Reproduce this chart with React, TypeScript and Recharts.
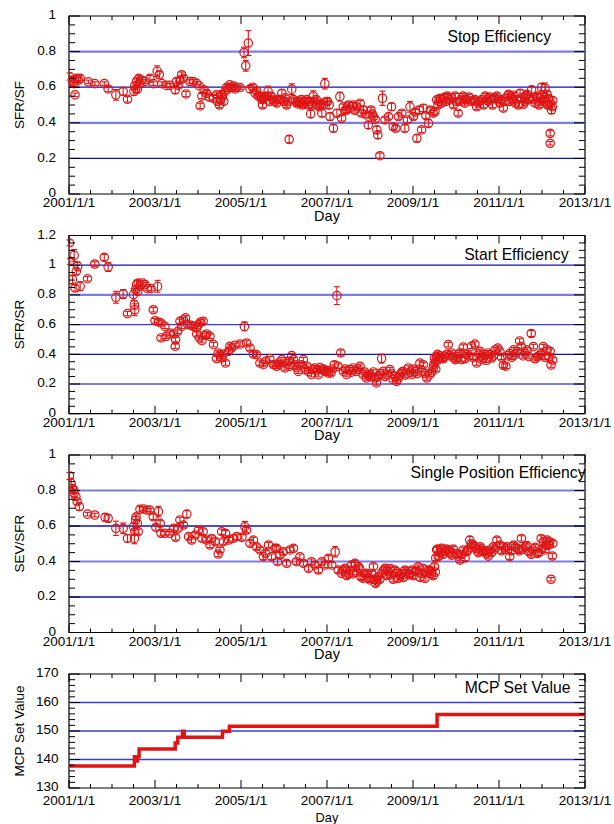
import React from 'react';
import {
  ScatterChart, Scatter, XAxis, YAxis, ErrorBar, ReferenceLine, ReferenceArea,
  LineChart, Line,
} from 'recharts';

type P = [number, number, number]; // [day (decimal year), value, error]

// ---------------- DATA ----------------
const yearTicks = [2001, 2003, 2005, 2007, 2009, 2011, 2013];
const yearLabels = ['2001/1/1', '2003/1/1', '2005/1/1', '2007/1/1', '2009/1/1', '2011/1/1', '2013/1/1'];

const effYTicks = [0, 0.2, 0.4, 0.6, 0.8, 1];
const startYTicks = [0, 0.2, 0.4, 0.6, 0.8, 1, 1.2];
const mcpYTicks = [130, 140, 150, 160, 170];

const stopEfficiency: P[] = [
  [2001.01,0.66,0.02],[2001.05,0.64,0.015],[2001.09,0.63,0.03],[2001.12,0.62,0.015],[2001.14,0.557,0.01],
  [2001.18,0.65,0.015],[2001.22,0.64,0.015],[2001.26,0.65,0.015],[2001.45,0.63,0.01],[2001.6,0.62,0.01],
  [2001.82,0.62,0.01],[2001.91,0.59,0.015],[2002.09,0.557,0.03],[2002.26,0.576,0.02],[2002.36,0.532,0.015],
  [2002.51,0.576,0.02],[2002.53,0.607,0.02],[2002.55,0.59,0.02],[2002.57,0.632,0.02],[2002.59,0.589,0.02],
  [2002.62,0.65,0.015],[2002.65,0.62,0.015],[2002.69,0.64,0.015],[2002.77,0.632,0.01],[2002.88,0.65,0.015],
  [2002.96,0.62,0.01],[2003.05,0.69,0.03],[2003.1,0.67,0.02],[2003.16,0.62,0.01],[2003.27,0.61,0.01],
  [2003.35,0.61,0.01],[2003.47,0.585,0.02],[2003.5,0.632,0.02],[2003.54,0.61,0.015],[2003.58,0.64,0.015],
  [2003.62,0.67,0.015],[2003.66,0.65,0.015],[2003.72,0.562,0.015],[2003.81,0.632,0.01],[2003.89,0.632,0.01],
  [2003.97,0.622,0.01],[2004.03,0.607,0.01],[2004.05,0.495,0.015],[2004.09,0.55,0.015],[2004.14,0.585,0.015],
  [2004.2,0.566,0.015],[2004.26,0.544,0.015],[2004.36,0.538,0.015],[2004.43,0.557,0.015],[2004.5,0.5,0.015],
  [2004.53,0.529,0.015],[2004.57,0.55,0.015],[2004.6,0.52,0.015],[2004.63,0.576,0.015],[2004.67,0.6,0.015],
  [2004.74,0.613,0.01],[2004.82,0.607,0.01],[2004.9,0.6,0.01],[2004.98,0.598,0.01],[2005.07,0.795,0.03],
  [2005.11,0.72,0.03],[2005.17,0.848,0.07],[2005.21,0.59,0.02],[2005.27,0.6,0.015],[2005.33,0.566,0.015],
  [2005.4,0.55,0.015],[2005.48,0.532,0.015],[2005.5,0.5,0.015],[2005.56,0.547,0.015],[2005.63,0.576,0.03],
  [2005.67,0.52,0.015],[2005.74,0.532,0.015],[2005.79,0.52,0.015],[2005.87,0.532,0.015],[2005.95,0.566,0.02],
  [2006.0,0.52,0.015],[2006.06,0.5,0.015],[2006.12,0.307,0.02],[2006.18,0.589,0.03],[2006.26,0.52,0.015],
  [2006.31,0.506,0.015],[2006.37,0.51,0.015],[2006.43,0.5,0.015],[2006.49,0.52,0.015],[2006.57,0.5,0.015],
  [2006.62,0.45,0.02],[2006.68,0.55,0.03],[2006.72,0.52,0.015],[2006.77,0.5,0.015],[2006.82,0.49,0.015],
  [2006.88,0.454,0.02],[2006.95,0.62,0.03],[2007.01,0.52,0.02],[2007.05,0.5,0.02],[2007.07,0.435,0.02],
  [2007.15,0.369,0.02],[2007.23,0.454,0.02],[2007.3,0.547,0.025],[2007.34,0.425,0.015],[2007.38,0.49,0.015],
  [2007.42,0.47,0.015],[2007.46,0.472,0.015],[2007.5,0.5,0.015],[2007.54,0.482,0.015],[2007.61,0.5,0.015],
  [2007.65,0.47,0.015],[2007.69,0.49,0.015],[2007.77,0.51,0.015],[2007.8,0.455,0.015],[2007.85,0.472,0.02],
  [2007.91,0.444,0.015],[2007.96,0.388,0.02],[2008.02,0.472,0.015],[2008.05,0.45,0.015],[2008.08,0.435,0.015],
  [2008.12,0.42,0.015],[2008.16,0.36,0.02],[2008.18,0.332,0.02],[2008.23,0.215,0.015],[2008.29,0.538,0.04],
  [2008.35,0.416,0.015],[2008.43,0.435,0.015],[2008.5,0.49,0.02],[2008.54,0.378,0.015],[2008.6,0.369,0.015],
  [2008.66,0.435,0.015],[2008.74,0.454,0.015],[2008.81,0.369,0.02],[2008.87,0.416,0.015],[2008.93,0.49,0.03],
  [2009.01,0.435,0.015],[2009.05,0.46,0.015],[2009.09,0.313,0.02],[2009.15,0.472,0.02],[2009.2,0.36,0.015],
  [2009.24,0.482,0.02],[2009.3,0.44,0.015],[2009.36,0.397,0.02],[2009.4,0.472,0.015],[2009.47,0.454,0.015],
  [2009.51,0.463,0.015],[2009.55,0.529,0.015],[2009.6,0.52,0.015],[2009.63,0.538,0.015],[2009.7,0.53,0.015],
  [2009.74,0.544,0.015],[2009.8,0.55,0.015],[2009.86,0.529,0.015],[2009.94,0.5,0.015],[2010.0,0.52,0.015],
  [2010.05,0.454,0.015],[2010.13,0.532,0.015],[2010.2,0.51,0.015],[2010.25,0.529,0.015],[2010.3,0.545,0.015],
  [2010.4,0.525,0.015],[2010.48,0.49,0.015],[2010.55,0.52,0.015],[2010.64,0.5,0.015],[2010.71,0.529,0.015],
  [2010.79,0.544,0.015],[2010.85,0.5,0.015],[2010.91,0.538,0.015],[2010.98,0.529,0.015],[2011.05,0.53,0.015],
  [2011.1,0.482,0.015],[2011.18,0.544,0.015],[2011.25,0.52,0.015],[2011.29,0.544,0.015],[2011.35,0.555,0.015],
  [2011.41,0.529,0.015],[2011.45,0.5,0.015],[2011.49,0.566,0.02],[2011.57,0.504,0.015],[2011.62,0.55,0.015],
  [2011.68,0.529,0.015],[2011.76,0.585,0.02],[2011.84,0.51,0.015],[2011.9,0.545,0.015],[2011.95,0.52,0.015],
  [2011.99,0.6,0.02],[2012.03,0.53,0.015],[2012.07,0.594,0.03],[2012.1,0.51,0.015],[2012.12,0.56,0.015],
  [2012.15,0.538,0.015],[2012.19,0.341,0.015],[2012.19,0.285,0.01],[2012.22,0.472,0.02],[2012.25,0.525,0.015],
  [2004.45,0.52,0.015],[2004.55,0.56,0.015],[2004.7,0.59,0.015],[2004.78,0.6,0.015],[2004.86,0.59,0.015],
  [2005.36,0.58,0.015],[2005.45,0.55,0.015],[2005.52,0.53,0.015],[2005.6,0.55,0.015],[2005.7,0.55,0.015],
  [2005.83,0.51,0.015],[2005.91,0.53,0.015],[2006.03,0.54,0.015],[2006.09,0.52,0.015],[2006.22,0.53,0.015],
  [2006.34,0.52,0.015],[2006.4,0.53,0.015],[2006.46,0.51,0.015],[2006.53,0.53,0.015],[2006.6,0.52,0.015],
  [2006.65,0.5,0.015],[2006.75,0.53,0.015],[2006.85,0.51,0.015],[2006.92,0.5,0.015],[2006.98,0.52,0.015],
  [2009.58,0.5,0.015],[2009.66,0.51,0.015],[2009.77,0.52,0.015],[2009.9,0.54,0.015],[2009.98,0.55,0.015],
  [2010.09,0.52,0.015],[2010.16,0.55,0.015],[2010.23,0.53,0.015],[2010.35,0.52,0.015],[2010.44,0.53,0.015],
  [2010.51,0.51,0.015],[2010.6,0.53,0.015],[2010.68,0.55,0.015],[2010.75,0.52,0.015],[2010.82,0.53,0.015],
  [2010.95,0.55,0.015],[2011.02,0.51,0.015],[2011.14,0.52,0.015],[2011.22,0.56,0.015],[2011.32,0.53,0.015],
  [2011.38,0.51,0.015],[2011.53,0.54,0.015],[2011.6,0.52,0.015],[2011.65,0.56,0.015],[2011.72,0.54,0.015],
  [2011.8,0.53,0.015],[2011.87,0.55,0.015],[2011.93,0.5,0.015],[2012.0,0.55,0.015],[2012.05,0.52,0.015],
  [2012.13,0.5,0.015],[2012.2,0.51,0.015],[2012.24,0.49,0.015],
];

const startEfficiency: P[] = [
  [2001.01,1.15,0.02],[2001.02,1.026,0.02],[2001.08,0.903,0.03],[2001.12,1.066,0.04],[2001.14,0.846,0.02],
  [2001.17,0.959,0.02],[2001.2,0.992,0.03],[2001.26,0.858,0.03],[2001.43,0.909,0.015],[2001.6,1.008,0.015],
  [2001.82,1.053,0.02],[2001.91,0.988,0.03],[2002.09,0.784,0.04],[2002.26,0.806,0.03],[2002.36,0.674,0.015],
  [2002.5,0.802,0.04],[2002.52,0.734,0.03],[2002.53,0.7,0.04],[2002.55,0.835,0.02],[2002.57,0.869,0.03],
  [2002.6,0.824,0.02],[2002.61,0.88,0.02],[2002.65,0.858,0.015],[2002.71,0.88,0.015],[2002.77,0.869,0.015],
  [2002.83,0.842,0.015],[2002.91,0.842,0.015],[2002.96,0.7,0.015],[2003.0,0.626,0.015],[2003.06,0.858,0.04],
  [2003.08,0.618,0.015],[2003.14,0.611,0.015],[2003.14,0.51,0.015],[2003.23,0.588,0.015],[2003.26,0.521,0.015],
  [2003.35,0.543,0.015],[2003.43,0.537,0.015],[2003.47,0.454,0.015],[2003.48,0.499,0.015],[2003.53,0.555,0.015],
  [2003.58,0.622,0.015],[2003.62,0.588,0.015],[2003.66,0.633,0.015],[2003.71,0.645,0.015],[2003.76,0.6,0.015],
  [2003.84,0.595,0.015],[2003.89,0.588,0.015],[2003.97,0.537,0.015],[2003.97,0.577,0.015],[2004.01,0.6,0.015],
  [2004.03,0.51,0.015],[2004.06,0.618,0.015],[2004.09,0.492,0.015],[2004.12,0.622,0.015],[2004.16,0.528,0.015],
  [2004.2,0.537,0.015],[2004.28,0.521,0.015],[2004.36,0.465,0.015],[2004.43,0.371,0.015],[2004.47,0.409,0.015],
  [2004.51,0.398,0.015],[2004.55,0.375,0.015],[2004.59,0.402,0.015],[2004.64,0.341,0.015],[2004.71,0.42,0.015],
  [2004.74,0.454,0.015],[2004.78,0.442,0.015],[2004.86,0.46,0.015],[2004.98,0.469,0.015],[2005.08,0.588,0.03],
  [2005.13,0.476,0.015],[2005.21,0.442,0.015],[2005.29,0.402,0.015],[2005.36,0.398,0.015],[2005.44,0.341,0.015],
  [2005.52,0.33,0.015],[2005.57,0.353,0.015],[2005.67,0.371,0.015],[2005.75,0.33,0.015],[2005.79,0.33,0.015],
  [2005.83,0.319,0.015],[2005.87,0.341,0.015],[2005.95,0.364,0.015],[2006.02,0.308,0.015],[2006.1,0.353,0.015],
  [2006.18,0.391,0.015],[2006.22,0.364,0.015],[2006.26,0.33,0.015],[2006.33,0.285,0.015],[2006.45,0.364,0.015],
  [2006.49,0.297,0.015],[2006.57,0.285,0.015],[2006.64,0.263,0.015],[2006.72,0.308,0.015],[2006.8,0.263,0.015],
  [2006.88,0.297,0.015],[2006.95,0.285,0.015],[2007.03,0.274,0.015],[2007.09,0.274,0.015],[2007.17,0.33,0.02],
  [2007.23,0.795,0.06],[2007.26,0.319,0.015],[2007.32,0.409,0.02],[2007.38,0.285,0.015],[2007.46,0.263,0.015],
  [2007.53,0.297,0.015],[2007.61,0.308,0.015],[2007.69,0.285,0.015],[2007.77,0.319,0.015],[2007.84,0.263,0.015],
  [2007.92,0.24,0.015],[2008.0,0.263,0.015],[2008.08,0.281,0.015],[2008.15,0.207,0.015],[2008.19,0.252,0.015],
  [2008.27,0.371,0.03],[2008.31,0.285,0.015],[2008.39,0.263,0.015],[2008.46,0.297,0.015],[2008.54,0.229,0.015],
  [2008.62,0.218,0.015],[2008.7,0.263,0.015],[2008.77,0.285,0.015],[2008.89,0.308,0.015],[2008.97,0.263,0.015],
  [2009.05,0.285,0.015],[2009.16,0.341,0.015],[2009.24,0.33,0.015],[2009.32,0.24,0.015],[2009.39,0.263,0.015],
  [2009.47,0.308,0.015],[2009.5,0.375,0.015],[2009.55,0.386,0.015],[2009.59,0.364,0.015],[2009.67,0.375,0.015],
  [2009.74,0.386,0.015],[2009.82,0.465,0.015],[2009.9,0.409,0.015],[2009.98,0.364,0.015],[2010.05,0.398,0.015],
  [2010.13,0.364,0.015],[2010.17,0.449,0.015],[2010.25,0.398,0.015],[2010.36,0.454,0.015],[2010.44,0.469,0.015],
  [2010.48,0.341,0.015],[2010.53,0.402,0.015],[2010.6,0.364,0.015],[2010.67,0.398,0.015],[2010.75,0.409,0.015],
  [2010.83,0.375,0.015],[2010.91,0.431,0.015],[2010.97,0.442,0.015],[2011.02,0.42,0.015],[2011.1,0.326,0.015],
  [2011.16,0.32,0.015],[2011.25,0.406,0.015],[2011.34,0.43,0.015],[2011.43,0.418,0.015],[2011.48,0.49,0.015],
  [2011.52,0.452,0.015],[2011.61,0.406,0.015],[2011.7,0.384,0.015],[2011.75,0.54,0.02],[2011.8,0.452,0.015],
  [2011.89,0.384,0.015],[2011.98,0.406,0.015],[2012.03,0.452,0.015],[2012.12,0.43,0.015],[2012.16,0.384,0.015],
  [2012.21,0.328,0.015],[2012.25,0.361,0.015],
  [2005.9,0.33,0.015],[2006.05,0.34,0.015],[2006.14,0.32,0.015],[2006.3,0.31,0.015],[2006.4,0.33,0.015],
  [2006.53,0.32,0.015],[2006.68,0.3,0.015],[2006.76,0.29,0.015],[2006.84,0.31,0.015],[2006.92,0.3,0.015],
  [2007.0,0.29,0.015],[2007.13,0.3,0.015],[2007.42,0.3,0.015],[2007.57,0.28,0.015],[2007.73,0.3,0.015],
  [2007.88,0.28,0.015],[2007.96,0.26,0.015],[2008.04,0.25,0.015],[2008.12,0.24,0.015],[2008.23,0.27,0.015],
  [2008.35,0.25,0.015],[2008.5,0.27,0.015],[2008.58,0.25,0.015],[2008.66,0.24,0.015],[2008.74,0.28,0.015],
  [2008.82,0.26,0.015],[2008.93,0.28,0.015],[2009.01,0.3,0.015],[2009.1,0.27,0.015],[2009.2,0.29,0.015],
  [2009.28,0.27,0.015],[2009.43,0.28,0.015],[2009.48,0.33,0.015],[2009.52,0.35,0.015],[2009.53,0.3,0.015],
  [2009.57,0.4,0.015],[2009.63,0.39,0.015],[2009.7,0.37,0.015],[2009.78,0.4,0.015],[2009.86,0.39,0.015],
  [2009.94,0.38,0.015],[2010.02,0.37,0.015],[2010.09,0.41,0.015],[2010.21,0.37,0.015],[2010.3,0.39,0.015],
  [2010.4,0.38,0.015],[2010.56,0.42,0.015],[2010.64,0.38,0.015],[2010.71,0.36,0.015],[2010.8,0.4,0.015],
  [2010.87,0.39,0.015],[2011.06,0.38,0.015],[2011.2,0.39,0.015],[2011.3,0.38,0.015],[2011.38,0.4,0.015],
  [2011.56,0.39,0.015],[2011.65,0.43,0.015],[2011.84,0.37,0.015],[2011.93,0.39,0.015],[2012.07,0.38,0.015],
  [2012.19,0.42,0.015],
];

const singlePositionEfficiency: P[] = [
  [2001.01,0.882,0.02],[2001.05,0.84,0.03],[2001.08,0.812,0.02],[2001.11,0.803,0.02],[2001.12,0.784,0.02],
  [2001.16,0.765,0.02],[2001.19,0.737,0.015],[2001.24,0.709,0.02],[2001.43,0.667,0.01],[2001.6,0.662,0.01],
  [2001.84,0.649,0.02],[2001.91,0.643,0.02],[2002.09,0.587,0.04],[2002.26,0.587,0.03],[2002.36,0.53,0.02],
  [2002.5,0.596,0.02],[2002.52,0.53,0.03],[2002.53,0.568,0.02],[2002.55,0.634,0.02],[2002.56,0.652,0.015],
  [2002.59,0.615,0.015],[2002.61,0.568,0.015],[2002.65,0.694,0.015],[2002.73,0.696,0.01],[2002.81,0.69,0.01],
  [2002.88,0.69,0.01],[2002.96,0.652,0.015],[2003.02,0.592,0.015],[2003.08,0.681,0.03],[2003.12,0.615,0.015],
  [2003.14,0.559,0.015],[2003.23,0.559,0.01],[2003.35,0.559,0.01],[2003.43,0.587,0.015],[2003.48,0.536,0.015],
  [2003.54,0.587,0.015],[2003.58,0.634,0.015],[2003.66,0.605,0.015],[2003.74,0.667,0.02],[2003.78,0.54,0.015],
  [2003.85,0.521,0.015],[2003.93,0.549,0.015],[2004.01,0.577,0.015],[2004.09,0.53,0.015],[2004.12,0.568,0.015],
  [2004.2,0.521,0.015],[2004.28,0.493,0.015],[2004.32,0.53,0.015],[2004.4,0.512,0.015],[2004.47,0.442,0.015],
  [2004.51,0.465,0.015],[2004.55,0.568,0.015],[2004.59,0.512,0.015],[2004.64,0.559,0.015],[2004.71,0.521,0.015],
  [2004.82,0.53,0.015],[2004.9,0.54,0.015],[2005.02,0.536,0.015],[2005.09,0.596,0.03],[2005.13,0.577,0.015],
  [2005.21,0.502,0.015],[2005.29,0.521,0.015],[2005.36,0.483,0.015],[2005.44,0.465,0.015],[2005.52,0.427,0.015],
  [2005.57,0.446,0.015],[2005.64,0.493,0.015],[2005.71,0.427,0.015],[2005.79,0.474,0.015],[2005.83,0.474,0.015],
  [2005.85,0.399,0.015],[2005.91,0.436,0.015],[2005.98,0.455,0.015],[2006.06,0.39,0.015],[2006.14,0.465,0.015],
  [2006.22,0.474,0.015],[2006.29,0.399,0.015],[2006.37,0.427,0.015],[2006.45,0.39,0.015],[2006.57,0.361,0.015],
  [2006.64,0.399,0.015],[2006.72,0.38,0.015],[2006.8,0.352,0.015],[2006.88,0.399,0.015],[2006.95,0.38,0.015],
  [2007.03,0.418,0.015],[2007.11,0.38,0.015],[2007.19,0.455,0.03],[2007.26,0.352,0.015],[2007.34,0.333,0.015],
  [2007.42,0.361,0.015],[2007.5,0.333,0.015],[2007.57,0.38,0.015],[2007.65,0.39,0.015],[2007.73,0.371,0.015],
  [2007.79,0.314,0.015],[2007.84,0.305,0.015],[2007.92,0.333,0.015],[2008.0,0.296,0.015],[2008.08,0.371,0.015],
  [2008.13,0.277,0.015],[2008.19,0.314,0.015],[2008.27,0.333,0.015],[2008.35,0.361,0.015],[2008.43,0.343,0.015],
  [2008.5,0.324,0.015],[2008.58,0.352,0.015],[2008.66,0.305,0.015],[2008.74,0.333,0.015],[2008.81,0.352,0.015],
  [2008.89,0.324,0.015],[2008.97,0.352,0.015],[2009.05,0.343,0.015],[2009.12,0.371,0.015],[2009.2,0.333,0.015],
  [2009.28,0.305,0.015],[2009.36,0.352,0.015],[2009.43,0.333,0.015],[2009.5,0.371,0.015],[2009.55,0.465,0.015],
  [2009.59,0.427,0.015],[2009.67,0.474,0.015],[2009.74,0.455,0.015],[2009.82,0.465,0.015],[2009.9,0.436,0.015],
  [2010.01,0.446,0.015],[2010.09,0.408,0.015],[2010.17,0.465,0.015],[2010.25,0.455,0.015],[2010.32,0.521,0.02],
  [2010.4,0.493,0.015],[2010.48,0.465,0.015],[2010.56,0.483,0.015],[2010.63,0.455,0.015],[2010.71,0.446,0.015],
  [2010.79,0.465,0.015],[2010.87,0.483,0.015],[2010.95,0.521,0.015],[2011.02,0.493,0.015],[2011.1,0.483,0.015],
  [2011.2,0.483,0.015],[2011.25,0.427,0.015],[2011.34,0.492,0.015],[2011.43,0.474,0.015],[2011.52,0.53,0.015],
  [2011.61,0.483,0.015],[2011.7,0.455,0.015],[2011.8,0.465,0.015],[2011.89,0.446,0.015],[2011.98,0.53,0.015],
  [2012.03,0.512,0.015],[2012.07,0.465,0.015],[2012.12,0.521,0.015],[2012.16,0.492,0.015],[2012.21,0.3,0.01],
  [2012.24,0.431,0.015],[2012.25,0.502,0.015],
  [2007.38,0.35,0.015],[2007.46,0.32,0.015],[2007.54,0.35,0.015],[2007.6,0.33,0.015],[2007.69,0.34,0.015],
  [2007.76,0.36,0.015],[2007.88,0.33,0.015],[2007.96,0.31,0.015],[2008.04,0.33,0.015],[2008.1,0.3,0.015],
  [2008.16,0.29,0.015],[2008.23,0.3,0.015],[2008.31,0.35,0.015],[2008.39,0.32,0.015],[2008.47,0.36,0.015],
  [2008.54,0.3,0.015],[2008.62,0.34,0.015],[2008.7,0.32,0.015],[2008.78,0.31,0.015],[2008.85,0.34,0.015],
  [2008.93,0.33,0.015],[2009.01,0.32,0.015],[2009.09,0.35,0.015],[2009.16,0.31,0.015],[2009.24,0.36,0.015],
  [2009.32,0.33,0.015],[2009.4,0.35,0.015],[2009.47,0.32,0.015],[2009.52,0.34,0.015],[2009.53,0.42,0.015],
  [2009.57,0.47,0.015],[2009.63,0.45,0.015],[2009.7,0.44,0.015],[2009.78,0.47,0.015],[2009.86,0.45,0.015],
  [2009.94,0.47,0.015],[2010.05,0.43,0.015],[2010.13,0.44,0.015],[2010.21,0.42,0.015],[2010.29,0.47,0.015],
  [2010.36,0.5,0.015],[2010.44,0.48,0.015],[2010.52,0.45,0.015],[2010.6,0.47,0.015],[2010.67,0.46,0.015],
  [2010.75,0.43,0.015],[2010.83,0.45,0.015],[2010.91,0.47,0.015],[2011.06,0.46,0.015],[2011.15,0.47,0.015],
  [2011.29,0.46,0.015],[2011.38,0.48,0.015],[2011.47,0.46,0.015],[2011.56,0.47,0.015],[2011.65,0.49,0.015],
  [2011.75,0.44,0.015],[2011.84,0.48,0.015],[2011.93,0.45,0.015],[2012.0,0.47,0.015],[2012.1,0.49,0.015],
  [2012.18,0.51,0.015],
];

const mcpDays = [2001.0, 2002.52, 2002.55, 2002.59, 2002.63, 2003.47, 2003.53, 2003.64, 2003.68, 2004.57, 2004.73, 2009.56, 2013.0];
const mcpValues = [137.7, 141, 139.5, 141, 143.7, 145.8, 147.8, 149.9, 147.8, 149.9, 151.7, 155.8, 155.8];

// ---------------- LAYOUT / STYLE ----------------
const W = 614;
const PL = 69;
const PR = 585;
const FONT = '"Liberation Sans", Arial, Helvetica, sans-serif';
const RED = '#e01414';
const TICK_FS = 13.5;

const GRID: Record<string, { stroke: string; w: number }> = {
  light: { stroke: '#7c7ce4', w: 2.2 },
  dark: { stroke: '#1212b4', w: 1.3 },
  mid: { stroke: '#3a3ae0', w: 1.3 },
};

const steps = (min: number, max: number, step: number) => {
  const n = Math.round((max - min) / step);
  return Array.from({ length: n + 1 }, (_, i) => +(min + i * step).toFixed(4));
};
const xAllTicks = steps(2001, 2013, 0.5);
const isIn = (arr: number[], v: number) => arr.some((m) => Math.abs(m - v) < 1e-6);

const makeXTick = (plotTop: number, plotBottom: number, labelDy: number) => (props: any) => {
  const { x, payload } = props;
  const v = payload.value;
  const idx = yearTicks.findIndex((t) => Math.abs(t - v) < 1e-6);
  const major = idx >= 0;
  const len = major ? 8 : 4;
  return (
    <g>
      <line x1={x} x2={x} y1={plotBottom} y2={plotBottom - len} stroke="#000" strokeWidth={1} />
      <line x1={x} x2={x} y1={plotTop} y2={plotTop + len} stroke="#000" strokeWidth={1} />
      {major && (
        <text x={x} y={plotBottom + labelDy + 4.8} textAnchor="middle" fontSize={TICK_FS} fontFamily={FONT} fill="#000">
          {yearLabels[idx]}
        </text>
      )}
    </g>
  );
};

const makeYTick = (majors: number[], labelX: number) => (props: any) => {
  const { y, payload } = props;
  const v = payload.value;
  const major = isIn(majors, v);
  const len = major ? 11 : 6;
  return (
    <g>
      <line x1={PL} x2={PL + len} y1={y} y2={y} stroke="#000" strokeWidth={1} />
      <line x1={PR} x2={PR - len} y1={y} y2={y} stroke="#000" strokeWidth={1} />
      {major && (
        <text x={labelX} y={y + 3.2} textAnchor="end" fontSize={TICK_FS} fontFamily={FONT} fill="#000">
          {String(v)}
        </text>
      )}
    </g>
  );
};

const Ring = (props: any) => {
  const { cx, cy } = props;
  if (cx == null || cy == null) return <g />;
  return <circle cx={cx} cy={cy} r={4.2} fill="none" stroke={RED} strokeWidth={1.2} />;
};

type EffCfg = {
  svgTop: number; svgH: number; plotTop: number; plotBottom: number;
  yMax: number; majors: number[]; minorStep: number;
  data: P[]; grid: [number, string][];
};

function EffPanel({ cfg }: { cfg: EffCfg }) {
  const { svgTop, svgH, plotTop, plotBottom, yMax, majors, minorStep, data, grid } = cfg;
  const rows = data.map(([day, v, err]) => ({ day, v, err }));
  const lt = plotTop - svgTop;
  const lb = plotBottom - svgTop;
  return (
    <div style={{ position: 'absolute', left: 0, top: svgTop, width: W, height: svgH }}>
      <ScatterChart width={W} height={svgH} margin={{ top: lt, right: W - PR, bottom: 0, left: 0 }}>
        <XAxis type="number" dataKey="day" domain={[2001, 2013]} ticks={xAllTicks} interval={0}
          height={svgH - lb} tickSize={0} tickMargin={0} axisLine={false} tickLine={false}
          allowDataOverflow tick={makeXTick(lt, lb, 8.5)} />
        <YAxis type="number" dataKey="v" domain={[0, yMax]} ticks={steps(0, yMax, minorStep)} interval={0}
          width={PL} tickSize={0} tickMargin={0} axisLine={false} tickLine={false}
          allowDataOverflow tick={makeYTick(majors, 56)} />
        {grid.map(([y, kind]) => (
          <ReferenceLine key={y} y={y} stroke={GRID[kind].stroke} strokeWidth={GRID[kind].w} />
        ))}
        <ReferenceArea x1={2001} x2={2013} y1={0} y2={yMax} fill="none" stroke="#000" strokeWidth={1.2} />
        <Scatter data={rows} isAnimationActive={false} shape={Ring}>
          <ErrorBar dataKey="err" direction="y" width={3} stroke={RED} strokeWidth={1.1} isAnimationActive={false} />
        </Scatter>
      </ScatterChart>
    </div>
  );
}

function McpPanel() {
  const svgTop = 660, svgH = 164, plotTop = 674, plotBottom = 788;
  const rows = mcpDays.map((day, i) => ({ day, mcp: mcpValues[i] }));
  const lt = plotTop - svgTop;
  const lb = plotBottom - svgTop;
  return (
    <div style={{ position: 'absolute', left: 0, top: svgTop, width: W, height: svgH }}>
      <LineChart width={W} height={svgH} data={rows} margin={{ top: lt, right: W - PR, bottom: 0, left: 0 }}>
        <XAxis type="number" dataKey="day" domain={[2001, 2013]} ticks={xAllTicks} interval={0}
          height={svgH - lb} tickSize={0} tickMargin={0} axisLine={false} tickLine={false}
          allowDataOverflow tick={makeXTick(lt, lb, 12)} />
        <YAxis type="number" domain={[130, 170]} ticks={steps(130, 170, 2)} interval={0}
          width={PL} tickSize={0} tickMargin={0} axisLine={false} tickLine={false}
          allowDataOverflow tick={makeYTick(mcpYTicks, 58.5)} />
        {[160, 150, 140].map((y) => (
          <ReferenceLine key={y} y={y} stroke={GRID.mid.stroke} strokeWidth={GRID.mid.w} />
        ))}
        <ReferenceArea x1={2001} x2={2013} y1={130} y2={170} fill="none" stroke="#000" strokeWidth={1.2} />
        <Line type="stepAfter" dataKey="mcp" stroke={RED} strokeWidth={3.5} dot={false} isAnimationActive={false} />
      </LineChart>
    </div>
  );
}

const panels: EffCfg[] = [
  { svgTop: 0, svgH: 225, plotTop: 16, plotBottom: 194, yMax: 1, majors: effYTicks, minorStep: 0.05,
    data: stopEfficiency, grid: [[0.8, 'light'], [0.6, 'dark'], [0.4, 'light'], [0.2, 'dark']] },
  { svgTop: 222, svgH: 225, plotTop: 235.5, plotBottom: 413.7, yMax: 1.2, majors: startYTicks, minorStep: 0.05,
    data: startEfficiency, grid: [[1, 'dark'], [0.8, 'light'], [0.6, 'mid'], [0.4, 'dark'], [0.2, 'light']] },
  { svgTop: 440, svgH: 222, plotTop: 455, plotBottom: 632.5, yMax: 1, majors: effYTicks, minorStep: 0.05,
    data: singlePositionEfficiency, grid: [[0.8, 'light'], [0.6, 'dark'], [0.4, 'light'], [0.2, 'dark']] },
];

const yTitles = [
  { text: 'SFR/SF', cy: 105 },
  { text: 'SFR/SR', cy: 324.6 },
  { text: 'SEV/SFR', cy: 543.7 },
  { text: 'MCP Set Value', cy: 731 },
];
const panelTitles = [
  { text: 'Stop Efficiency', x: 551, cy: 36.7 },
  { text: 'Start Efficiency', x: 568.5, cy: 254.7 },
  { text: 'Single Position Efficiency', x: 585.5, cy: 473.3 },
  { text: 'MCP Set Value', x: 570.5, cy: 688.3 },
];
const dayLabels = [
  { cy: 215.5, fs: 14.5 },
  { cy: 435.2, fs: 14.5 },
  { cy: 654, fs: 14.5 },
  { cy: 817.5, fs: 12.8 },
];

export default function App() {
  return (
    <div style={{ position: 'absolute', left: 0, top: 0, width: W, height: 824, background: '#fff', overflow: 'hidden' }}>
      {panels.map((cfg, i) => <EffPanel key={i} cfg={cfg} />)}
      <McpPanel />
      <svg width={W} height={824} style={{ position: 'absolute', left: 0, top: 0, pointerEvents: 'none' }}>
        {yTitles.map((t) => (
          <text key={t.text} transform={`translate(19,${t.cy}) rotate(-90)`} dy={4.8} textAnchor="middle"
            fontSize={13.5} fontFamily={FONT} fill="#000">{t.text}</text>
        ))}
        {panelTitles.map((t) => (
          <text key={t.text + t.cy} x={t.x} y={t.cy + 5} textAnchor="end" fontSize={15.7} fontFamily={FONT} fill="#000">
            {t.text}
          </text>
        ))}
        {dayLabels.map((d, i) => (
          <text key={i} x={(PL + PR) / 2} y={d.cy + d.fs * 0.36} textAnchor="middle" fontSize={d.fs} fontFamily={FONT} fill="#000">
            Day
          </text>
        ))}
      </svg>
    </div>
  );
}
